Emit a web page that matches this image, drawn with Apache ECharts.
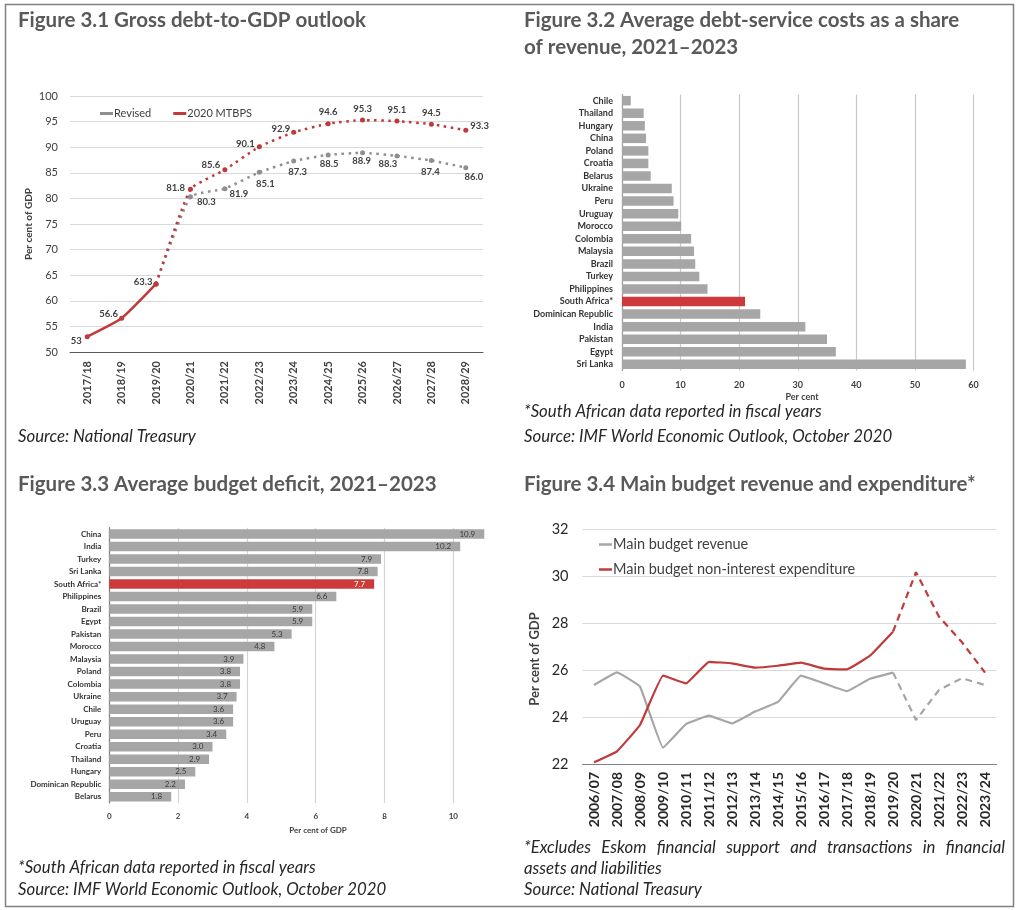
<!DOCTYPE html>
<html><head><meta charset="utf-8">
<script src="https://cdn.jsdelivr.net/npm/echarts@6/dist/echarts.min.js"></script>
<style>html,body{margin:0;padding:0;background:#fff}#c{width:1024px;height:910px}</style>
</head><body><div id="c"></div>
<script>
// ---------- Figure 3.1 ----------
const fig1Years = ['2017/18','2018/19','2019/20','2020/21','2021/22','2022/23','2023/24','2024/25','2025/26','2026/27','2027/28','2028/29'];
const fig1Revised = [53, 56.6, 63.3, 80.3, 81.9, 85.1, 87.3, 88.5, 88.9, 88.3, 87.4, 86.0];
const fig1Mtbps   = [53, 56.6, 63.3, 81.8, 85.6, 90.1, 92.9, 94.6, 95.3, 95.1, 94.5, 93.3];
const fig1LastActual = 2;
const fig1YTicks = { min: 50, max: 100, step: 5 };

// ---------- Figure 3.2 ----------
const fig2Countries = ['Chile','Thailand','Hungary','China','Poland','Croatia','Belarus','Ukraine','Peru','Uruguay','Morocco','Colombia','Malaysia','Brazil','Turkey','Philippines','South Africa*','Dominican Republic','India','Pakistan','Egypt','Sri Lanka'];
const fig2Values = [1.5, 3.7, 3.9, 4.1, 4.5, 4.5, 4.9, 8.5, 8.8, 9.6, 10.1, 11.8, 12.3, 12.5, 13.2, 14.6, 21.0, 23.6, 31.3, 35.0, 36.5, 58.7];
const fig2XTicks = { min: 0, max: 60, step: 10 };

// ---------- Figure 3.3 ----------
const fig3Countries = ['China','India','Turkey','Sri Lanka','South Africa*','Philippines','Brazil','Egypt','Pakistan','Morocco','Malaysia','Poland','Colombia','Ukraine','Chile','Uruguay','Peru','Croatia','Thailand','Hungary','Dominican Republic','Belarus'];
const fig3Values = [10.9, 10.2, 7.9, 7.8, 7.7, 6.6, 5.9, 5.9, 5.3, 4.8, 3.9, 3.8, 3.8, 3.7, 3.6, 3.6, 3.4, 3.0, 2.9, 2.5, 2.2, 1.8];
const fig3XTicks = { min: 0, max: 11, step: 2 };

// ---------- Figure 3.4 ----------
const fig4Years = ['2006/07','2007/08','2008/09','2009/10','2010/11','2011/12','2012/13','2013/14','2014/15','2015/16','2016/17','2017/18','2018/19','2019/20','2020/21','2021/22','2022/23','2023/24'];
const fig4Revenue     = [25.36, 25.90, 25.29, 22.70, 23.70, 24.06, 23.73, 24.23, 24.64, 25.76, 25.43, 25.10, 25.63, 25.89, 23.87, 25.15, 25.65, 25.36];
const fig4Expenditure = [22.07, 22.54, 23.66, 25.76, 25.43, 26.35, 26.28, 26.10, 26.18, 26.31, 26.06, 26.03, 26.61, 27.63, 30.16, 28.27, 27.18, 25.89];
const fig4LastActual = 13;
const fig4YTicks = { min: 22, max: 32, step: 2 };

// ---------- styles ----------
const FONT = 'Lato, sans-serif';
const RED = '#c0393b';
const BARRED = '#cc3a3c';
const GREY_LINE = '#8f8f8f';
const GREY_BAR = '#a6a6a6';
const TXT = '#404040';
const TITLE = '#595959';
const NOTE = '#262626';
const TSIZE = 20.5;
const NSIZE = 16.8;

// label placements for fig 1 (style only)
const mtbpsLabelPos = [null,null,null,['left',[1,-1]],['left',[2,-5]],['left',[2,-3]],['left',[3,-3]],['top',[0,0]],['top',[0,0]],['top',[0,0]],['top',[0,0]],['right',[-2,-4]]];
const revisedLabelPos = [null,null,null,['right',[0,5]],['right',[-2,5]],['bottom',[6,0]],['bottom',[4,-1]],['bottom',[1,-2]],['bottom',[-1,-3]],['bottom',[-9,-3]],['bottom',[-1,0]],['bottom',[8,-2]]];
const histLabelPos = [['left',[1,4]],['left',[3,-4]],['left',[3,-2]]];

function labelled(values, pos, from, to) {
  return values.map((v, i) => {
    if (i < from || i > to) return null;
    const p = pos[i];
    if (!p) return { value: v, label: { show: false } };
    return { value: v, label: { show: true, position: p[0], offset: p[1], distance: 4 } };
  });
}

const fig1Hist = labelled(fig1Mtbps, histLabelPos, 0, fig1LastActual);
const fig1MtbpsProj = labelled(fig1Mtbps, mtbpsLabelPos, fig1LastActual, fig1Mtbps.length - 1);
const fig1RevProj = labelled(fig1Revised, revisedLabelPos, fig1LastActual, fig1Revised.length - 1);

const lbl1 = { fontFamily: FONT, fontSize: 9.5, fontWeight: 'bold', color: TXT,
  formatter: p => (p.seriesName === 'Actual' ? String(p.value) : p.value.toFixed(1)) };

const chart = echarts.init(document.getElementById('c'), null, { renderer: 'canvas' });

function gtext(x, y, text, font, fill, align, extra) {
  return Object.assign({ type: 'text', x: x, y: y, silent: true,
    style: { text: text, font: font, fill: fill || TITLE, textVerticalAlign: 'middle', textAlign: align || 'left' } },
    extra || {});
}
const bold = s => 'bold ' + s + 'px ' + FONT;
const ital = s => 'italic ' + s + 'px ' + FONT;

// justified line: spread words across a given width
function justified(x0, x1, y, text, font, fill) {
  const ctx = document.createElement('canvas').getContext('2d');
  ctx.font = font;
  const words = text.split(' ');
  const widths = words.map(w => ctx.measureText(w).width);
  const total = widths.reduce((a, b) => a + b, 0);
  const gap = (x1 - x0 - total) / (words.length - 1);
  let x = x0;
  return words.map((w, i) => { const el = gtext(x, y, w, font, fill); x += widths[i] + gap; return el; });
}

const graphics = [
  { type: 'rect', shape: { x: 5.5, y: 4.5, width: 1008, height: 902 }, style: { fill: 'none', stroke: '#808080', lineWidth: 1.5 }, silent: true },
  gtext(18, 20, 'Figure 3.1 Gross debt-to-GDP outlook', bold(TSIZE)),
  gtext(524, 20, 'Figure 3.2 Average debt-service costs as a share', bold(TSIZE)),
  gtext(524, 47, 'of revenue, 2021–2023', bold(TSIZE)),
  gtext(18, 484, 'Figure 3.3 Average budget deficit, 2021–2023', bold(TSIZE)),
  gtext(524, 484, 'Figure 3.4 Main budget revenue and expenditure*', bold(TSIZE)),
  gtext(18, 437, 'Source: National Treasury', ital(NSIZE), NOTE),
  gtext(524, 412, '*South African data reported in fiscal years', ital(NSIZE), NOTE),
  gtext(524, 437, 'Source: IMF World Economic Outlook, October 2020', ital(NSIZE), NOTE),
  gtext(18, 868, '*South African data reported in fiscal years', ital(NSIZE), NOTE),
  gtext(18, 890, 'Source: IMF World Economic Outlook, October 2020', ital(NSIZE), NOTE),
  gtext(524, 869, 'assets and liabilities', ital(NSIZE), NOTE),
  gtext(524, 890, 'Source: National Treasury', ital(NSIZE), NOTE),
  gtext(802, 397, 'Per cent', bold(9), TXT, 'center'),
  gtext(318, 830, 'Per cent of GDP', bold(8), TXT, 'center'),
  gtext(535, 659, 'Per cent of GDP', bold(13), TXT, 'center', { rotation: Math.PI / 2 })
].concat(justified(524, 1005, 848, '*Excludes Eskom financial support and transactions in financial', ital(NSIZE), NOTE));

const option = {
  animation: false,
  backgroundColor: '#ffffff',
  textStyle: { fontFamily: FONT },
  graphic: graphics,
  legend: [
    { left: 95, top: 103, orient: 'horizontal', itemWidth: 13, itemHeight: 3, itemGap: 22,
      textStyle: { fontFamily: FONT, fontSize: 11, color: TXT, padding: [0, 0, 0, -4] },
      data: [{ name: 'Revised', icon: 'rect' }, { name: '2020 MTBPS', icon: 'rect' }] },
    { left: 594, top: 532, orient: 'vertical', itemWidth: 13, itemHeight: 2.5, itemGap: 10,
      textStyle: { fontFamily: FONT, fontSize: 14.5, color: TXT, padding: [0, 0, 0, -4] },
      data: [{ name: 'Main budget revenue', icon: 'rect' }, { name: 'Main budget non-interest expenditure', icon: 'rect' }] }
  ],
  grid: [
    { left: 70, top: 96, width: 413, height: 256 },
    { left: 622, top: 94.4, width: 351.5, height: 276.2 },
    { left: 109.3, top: 527.7, width: 378.4, height: 275.3 },
    { left: 582.5, top: 529, width: 414, height: 235 }
  ],
  xAxis: [
    { gridIndex: 0, type: 'category', data: fig1Years,
      axisLine: { lineStyle: { color: '#595959', width: 1 } }, axisTick: { show: false },
      axisLabel: { rotate: 90, margin: 9, fontFamily: FONT, fontSize: 11, fontWeight: 'bold', color: TXT } },
    { gridIndex: 1, type: 'value', min: fig2XTicks.min, max: fig2XTicks.max, interval: fig2XTicks.step,
      axisLine: { show: false }, axisTick: { show: false },
      splitLine: { lineStyle: { color: '#c8c8c8', width: 1.2 } },
      axisLabel: { margin: 10, fontFamily: FONT, fontSize: 9, fontWeight: 'bold', color: TXT } },
    { gridIndex: 2, type: 'value', min: fig3XTicks.min, max: fig3XTicks.max, interval: fig3XTicks.step,
      axisLine: { show: false }, axisTick: { show: false },
      splitLine: { showMaxLine: false, lineStyle: { color: '#d4d4d4', width: 1.2 } },
      axisLabel: { margin: 9, showMaxLabel: false, fontFamily: FONT, fontSize: 8, fontWeight: 'bold', color: TXT } },
    { gridIndex: 3, type: 'category', data: fig4Years,
      axisLine: { lineStyle: { color: '#808080', width: 1.2 } }, axisTick: { show: false },
      axisLabel: { rotate: 90, margin: 8, fontFamily: FONT, fontSize: 14, fontWeight: 'bold', color: '#262626' } }
  ],
  yAxis: [
    { gridIndex: 0, type: 'value', min: fig1YTicks.min, max: fig1YTicks.max, interval: fig1YTicks.step,
      name: 'Per cent of GDP', nameLocation: 'middle', nameGap: 36,
      nameTextStyle: { fontFamily: FONT, fontSize: 10, fontWeight: 'bold', color: TXT },
      axisLine: { show: false }, axisTick: { show: false },
      splitLine: { lineStyle: { color: '#d9d9d9', width: 1.2 } },
      axisLabel: { margin: 12, fontFamily: FONT, fontSize: 11, color: TXT } },
    { gridIndex: 1, type: 'category', inverse: true, data: fig2Countries,
      axisLine: { lineStyle: { color: '#a0a0a0', width: 1.2 } }, axisTick: { show: false },
      axisLabel: { margin: 9, fontFamily: FONT, fontSize: 9, fontWeight: 'bold', color: '#333' } },
    { gridIndex: 2, type: 'category', inverse: true, data: fig3Countries,
      axisLine: { lineStyle: { color: '#808080', width: 1.2 } }, axisTick: { show: false },
      axisLabel: { margin: 8, fontFamily: FONT, fontSize: 8, fontWeight: 'bold', color: '#333' } },
    { gridIndex: 3, type: 'value', min: fig4YTicks.min, max: fig4YTicks.max, interval: fig4YTicks.step,
      axisLine: { show: false }, axisTick: { show: false },
      splitLine: { lineStyle: { color: '#d9d9d9', width: 1.2 } },
      axisLabel: { margin: 14, fontFamily: FONT, fontSize: 14.5, color: '#262626' } }
  ],
  series: [
    // Fig 3.1
    { name: 'Revised', type: 'line', xAxisIndex: 0, yAxisIndex: 0, data: fig1RevProj, smooth: 0.15,
      symbol: 'circle', symbolSize: 5, showAllSymbol: true,
      color: GREY_LINE, lineStyle: { color: GREY_LINE, width: 2.5, type: [2.5, 4.5] },
      itemStyle: { color: GREY_LINE }, label: lbl1, z: 3 },
    { name: '2020 MTBPS', type: 'line', xAxisIndex: 0, yAxisIndex: 0, data: fig1MtbpsProj, smooth: 0.15,
      symbol: 'circle', symbolSize: 5, showAllSymbol: true,
      color: RED, lineStyle: { color: RED, width: 2.5, type: [2.5, 4.5] },
      itemStyle: { color: RED }, label: lbl1, z: 4 },
    { name: 'Actual', type: 'line', xAxisIndex: 0, yAxisIndex: 0, data: fig1Hist, smooth: 0.15,
      symbol: 'circle', symbolSize: 5, showAllSymbol: true,
      color: RED, lineStyle: { color: RED, width: 2.5 }, itemStyle: { color: RED }, label: lbl1, z: 5 },
    // Fig 3.2
    { name: 'Debt service', type: 'bar', xAxisIndex: 1, yAxisIndex: 1, data: fig2Values, barWidth: 9.5,
      itemStyle: { color: p => (fig2Countries[p.dataIndex] === 'South Africa*' ? BARRED : GREY_BAR) } },
    // Fig 3.3
    { name: 'Deficit', type: 'bar', xAxisIndex: 2, yAxisIndex: 2, barWidth: 9.5,
      data: fig3Values.map((v, i) => fig3Countries[i] === 'South Africa*' ? { value: v, label: { color: '#ffffff' } } : v),
      itemStyle: { color: p => (fig3Countries[p.dataIndex] === 'South Africa*' ? BARRED : GREY_BAR) },
      label: { show: true, position: 'insideRight', distance: 9, fontFamily: FONT, fontSize: 8,
        formatter: p => p.value.toFixed(1), color: '#3a3a3a' } },
    // Fig 3.4
    { name: 'Main budget revenue', type: 'line', xAxisIndex: 3, yAxisIndex: 3, smooth: 0.08, symbol: 'none',
      data: fig4Revenue.map((v, i) => (i <= fig4LastActual ? v : null)),
      color: '#a6a6a6', lineStyle: { color: '#a6a6a6', width: 2.2 } },
    { name: 'Main budget revenue', type: 'line', xAxisIndex: 3, yAxisIndex: 3, smooth: false, symbol: 'none',
      data: fig4Revenue.map((v, i) => (i >= fig4LastActual ? v : null)),
      color: '#a6a6a6', lineStyle: { color: '#a6a6a6', width: 2.2, type: [7, 5] } },
    { name: 'Main budget non-interest expenditure', type: 'line', xAxisIndex: 3, yAxisIndex: 3, smooth: 0.08, symbol: 'none',
      data: fig4Expenditure.map((v, i) => (i <= fig4LastActual ? v : null)),
      color: RED, lineStyle: { color: RED, width: 2.2 } },
    { name: 'Main budget non-interest expenditure', type: 'line', xAxisIndex: 3, yAxisIndex: 3, smooth: false, symbol: 'none',
      data: fig4Expenditure.map((v, i) => (i >= fig4LastActual ? v : null)),
      color: RED, lineStyle: { color: RED, width: 2.2, type: [7, 5] } }
  ]
};
chart.setOption(option);
</script></body></html>
